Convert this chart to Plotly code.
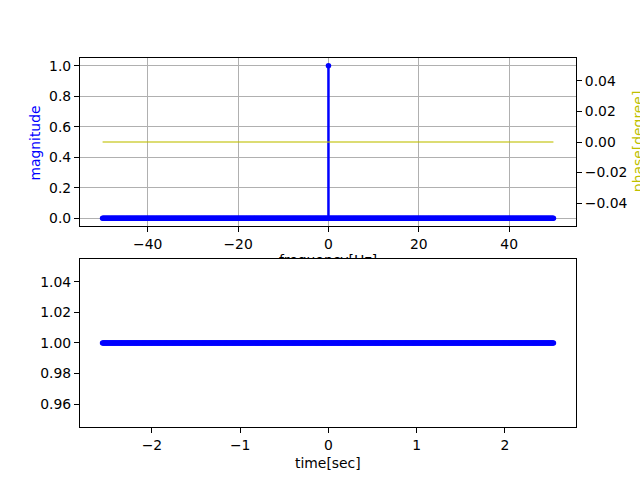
import numpy as np
import plotly.graph_objects as go

# ---- data ----
n_samples = 512
dt = 0.01
time_sec = (np.arange(n_samples) - n_samples // 2) * dt          # sample instants
signal = [1.0] * n_samples                                       # constant signal
freq_hz = np.fft.fftshift(np.fft.fftfreq(n_samples, dt))         # frequency bins
magnitude = [0.0] * n_samples
magnitude[n_samples // 2] = 1.0                                  # single peak at 0 Hz
phase_deg = [0.0] * n_samples

top_xticks = [-40, -20, 0, 20, 40]
top_yticks = [0.0, 0.2, 0.4, 0.6, 0.8, 1.0]
phase_ticks = [-0.04, -0.02, 0.0, 0.02, 0.04]
bot_xticks = [-2, -1, 0, 1, 2]
bot_yticks = [0.96, 0.98, 1.00, 1.02, 1.04]

BLUE = "#0000ff"
YEL = "rgb(191,191,0)"
GRID = "#b0b0b0"
FONT = "DejaVu Sans"
FS = 13.9

# stem lines
sx, sy = [], []
for f, m in zip(freq_hz, magnitude):
    sx += [f, f, None]
    sy += [0.0, m, None]

fig = go.Figure()
fig.add_trace(go.Scatter(x=sx, y=sy, mode="lines", line=dict(color=BLUE, width=2.5),
                         xaxis="x", yaxis="y", hoverinfo="skip"))
fig.add_trace(go.Scatter(x=freq_hz, y=magnitude, mode="markers",
                         marker=dict(color=BLUE, size=5.5), xaxis="x", yaxis="y"))
fig.add_trace(go.Scatter(x=freq_hz, y=phase_deg, mode="lines",
                         line=dict(color="rgba(191,191,0,0.55)", width=2),
                         xaxis="x", yaxis="y3"))
fig.add_trace(go.Scatter(x=time_sec, y=signal, mode="markers",
                         marker=dict(color=BLUE, size=5.5), xaxis="x2", yaxis="y2"))
# frequency label, clipped by the lower axes like the original
fig.add_trace(go.Scatter(x=[0.5], y=[-0.08], mode="text", text=["frequency[Hz]"],
                         textposition="middle center", textfont=dict(family=FONT, size=FS, color="black"),
                         xaxis="x4", yaxis="y4", cliponaxis=True, hoverinfo="skip"))

top_dom = [0.5447, 1.0]
bot_dom = [0.0, 0.4553]
common = dict(showline=True, linecolor="black", linewidth=1.1, mirror=True, ticks="outside",
              ticklen=5, tickwidth=1.1, tickcolor="black", zeroline=False, automargin=False,
              tickfont=dict(family=FONT, size=FS, color="black"))

fig.update_layout(
    width=640, height=480,
    margin=dict(l=80, r=64, t=58, b=53),
    paper_bgcolor="white", plot_bgcolor="white",
    showlegend=False,
    font=dict(family=FONT, size=FS, color="black"),
    xaxis=dict(domain=[0, 1], anchor="y", range=[-55, 54.8], tickvals=top_xticks,
               showgrid=True, gridcolor=GRID, gridwidth=1.1, **common),
    yaxis=dict(domain=top_dom, anchor="x", range=[-0.05, 1.05], tickvals=top_yticks,
               tickformat=".1f", showgrid=True, gridcolor=GRID, gridwidth=1.1, **common),
    yaxis3=dict(overlaying="y", side="right", anchor="x", range=[-0.055, 0.055],
                tickvals=phase_ticks, tickformat=".2f", showgrid=False, **common),
    xaxis2=dict(domain=[0, 1], anchor="y2", range=[-2.8155, 2.8055], tickvals=bot_xticks,
                showgrid=False, **common),
    yaxis2=dict(domain=bot_dom, anchor="x2", range=[0.945, 1.055], tickvals=bot_yticks,
                tickformat=".2f", showgrid=False, **common),
    xaxis4=dict(domain=[0, 1], anchor="y4", range=[0, 1], visible=False),
    yaxis4=dict(domain=[bot_dom[1], top_dom[0]], anchor="x4", range=[0, 1], visible=False),
    annotations=[
        dict(text="magnitude", x=-0.0907, y=0.768, xref="paper", yref="paper", textangle=-90,
             showarrow=False, xanchor="center", yanchor="middle",
             font=dict(family=FONT, size=FS, color=BLUE)),
        dict(text="phase[degree]", x=1.125, y=0.772, xref="paper", yref="paper", textangle=-90,
             showarrow=False, xanchor="center", yanchor="middle",
             font=dict(family=FONT, size=FS, color=YEL)),
        dict(text="time[sec]", x=0.5, y=-0.0976, xref="paper", yref="paper",
             showarrow=False, xanchor="center", yanchor="middle",
             font=dict(family=FONT, size=FS, color="black")),
    ],
)

fig.write_html("out.html", config={"displayModeBar": False},
               post_script="document.body.style.margin='0';document.body.style.padding='0';")
